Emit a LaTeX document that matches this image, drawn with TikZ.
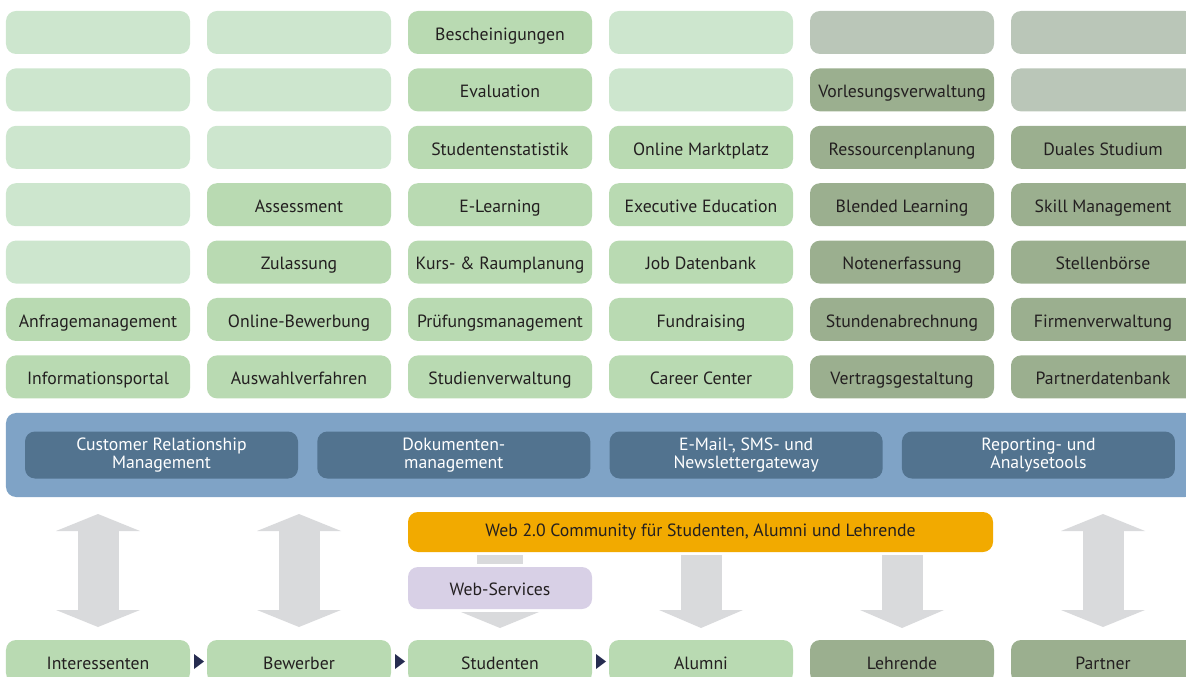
\documentclass[tikz,border=0pt]{standalone}
\usepackage{fontspec}
\setmainfont{PT Sans}
\usepackage{tikz}
\usetikzlibrary{arrows.meta, positioning, backgrounds, calc}

\definecolor{leergruen}{HTML}{CDE6CE}
\definecolor{modulgruen}{HTML}{B9DAB2}
\definecolor{leergrau}{HTML}{BAC6B8}
\definecolor{olivgruen}{HTML}{9BAF8F}
\definecolor{bandblau}{HTML}{7FA3C6}
\definecolor{dienstblau}{HTML}{52738F}
\definecolor{communityorange}{HTML}{F2AA00}
\definecolor{lavendel}{HTML}{D8D0E6}
\definecolor{pfeilgrau}{HTML}{D9DADC}
\definecolor{dunkelblau}{HTML}{262C50}
\definecolor{schrift}{HTML}{231F20}

\begin{document}
\begin{tikzpicture}[
    node distance=0.36cm and 0.425cm,
    font=\fontsize{12.6}{14}\selectfont,
    % Knoten
    modul/.style={rectangle, rounded corners=0.25cm, fill=modulgruen, text=schrift, minimum width=4.6cm, minimum height=1.075cm, inner sep=1pt, outer sep=0pt, text height=12pt, text depth=1pt, align=center},
    leer/.style={modul, fill=leergruen},
    partnermodul/.style={modul, fill=olivgruen},
    leerpartner/.style={modul, fill=leergrau},
    band/.style={rectangle, rounded corners=0.25cm, fill=bandblau, minimum width=29.725cm, minimum height=2.1cm, outer sep=0pt},
    dienst/.style={rectangle, rounded corners=0.25cm, fill=dienstblau, text=white, minimum width=6.825cm, minimum height=1.175cm, inner sep=1pt, outer sep=0pt, align=center, font=\fontsize{12.6}{12.8}\selectfont},
    community/.style={modul, fill=communityorange, minimum width=14.625cm, minimum height=1cm, text height=8pt, text depth=2pt},
    webdienst/.style={modul, fill=lavendel, minimum height=1.05cm},
    % Pfeile
    doppelpfeil/.style={draw=pfeilgrau, line width=1.025cm, {Triangle[width=2.1cm, length=0.425cm, line width=0pt]}-{Triangle[width=2.1cm, length=0.425cm, line width=0pt]}},
    pfeil/.style={draw=pfeilgrau, line width=1.025cm, -{Triangle[width=2.1cm, length=0.45cm, line width=0pt]}},
    steg/.style={draw=pfeilgrau, line width=1.15cm},
    webpfeil/.style={draw=pfeilgrau, line width=0.2pt, -{Triangle[width=1.95cm, length=0.4cm, line width=0pt]}},
    weiter/.style={draw=dunkelblau, line width=0.2pt, -{Triangle[width=0.375cm, length=0.25cm, line width=0pt]}}
]
\useasboundingbox (0,0) rectangle (29.65,-16.925);

% 1. Modulraster (7 Zeilen, 6 Spalten)
\node[leer, anchor=north west] (leer11) at (0.15,-0.275) {};
\node[leer, below=of leer11] (leer12) {};
\node[leer, below=of leer12] (leer13) {};
\node[leer, below=of leer13] (leer14) {};
\node[leer, below=of leer14] (leer15) {};
\node[modul, below=of leer15] (anfrage) {Anfragemanagement};
\node[modul, below=of anfrage] (info) {Informationsportal};

\node[leer, right=of leer11] (leer21) {};
\node[leer, below=of leer21] (leer22) {};
\node[leer, below=of leer22] (leer23) {};
\node[modul, below=of leer23] (assessment) {Assessment};
\node[modul, below=of assessment] (zulassung) {Zulassung};
\node[modul, below=of zulassung] (bewerbung) {Online-Bewerbung};
\node[modul, below=of bewerbung] (auswahl) {Auswahlverfahren};

\node[modul, right=of leer21] (bescheinigung) {Bescheinigungen};
\node[modul, below=of bescheinigung] (evaluation) {Evaluation};
\node[modul, below=of evaluation] (statistik) {Studentenstatistik};
\node[modul, below=of statistik] (elearning) {E-Learning};
\node[modul, below=of elearning] (kursplanung) {Kurs- \& Raumplanung};
\node[modul, below=of kursplanung] (pruefung) {Prüfungsmanagement};
\node[modul, below=of pruefung] (studien) {Studienverwaltung};

\node[leer, right=of bescheinigung] (leer41) {};
\node[leer, below=of leer41] (leer42) {};
\node[modul, below=of leer42] (marktplatz) {Online Marktplatz};
\node[modul, below=of marktplatz] (executive) {Executive Education};
\node[modul, below=of executive] (jobdb) {Job Datenbank};
\node[modul, below=of jobdb] (fundraising) {Fundraising};
\node[modul, below=of fundraising] (career) {Career Center};

\node[leerpartner, right=of leer41] (leer51) {};
\node[partnermodul, below=of leer51] (vorlesung) {Vorlesungsverwaltung};
\node[partnermodul, below=of vorlesung] (ressourcen) {Ressourcenplanung};
\node[partnermodul, below=of ressourcen] (blended) {Blended Learning};
\node[partnermodul, below=of blended] (noten) {Notenerfassung};
\node[partnermodul, below=of noten] (stunden) {Stundenabrechnung};
\node[partnermodul, below=of stunden] (vertrag) {Vertragsgestaltung};

\node[leerpartner, right=of leer51] (leer61) {};
\node[leerpartner, below=of leer61] (leer62) {};
\node[partnermodul, below=of leer62] (dual) {Duales Studium};
\node[partnermodul, below=of dual] (skill) {Skill Management};
\node[partnermodul, below=of skill] (stellen) {Stellenbörse};
\node[partnermodul, below=of stellen] (firmen) {Firmenverwaltung};
\node[partnermodul, below=of firmen] (partnerdb) {Partnerdatenbank};

% 2. Basisdienste
\node[band, below=0.365cm of info.south west, anchor=north west] (band) {};
\node[dienst, anchor=west] (crm) at ([xshift=0.475cm]band.west) {Customer Relationship\\Management};
\node[dienst, right=0.483cm of crm] (dms) {Dokumenten-\\management};
\node[dienst, right=0.483cm of dms] (gateway) {E-Mail-, SMS- und\\Newslettergateway};
\node[dienst, right=0.483cm of gateway] (reporting) {Reporting- und\\Analysetools};

% 3. Community und Web-Services
\node[community, anchor=north west] (community) at ($(band.south -| studien.west)+(0,-0.375)$) {Web 2.0 Community für Studenten, Alumni und Lehrende};
\node[webdienst, below=0.375cm of community.south west, anchor=north west] (webservices) {Web-Services};

% 4. Zielgruppen
\node[modul, below=0.775cm of webservices] (studenten) {Studenten};
\node[modul, left=of studenten] (bewerber) {Bewerber};
\node[modul, left=of bewerber] (interessenten) {Interessenten};
\node[modul, right=of studenten] (alumni) {Alumni};
\node[partnermodul, right=of alumni] (lehrende) {Lehrende};
\node[partnermodul, right=of lehrende] (partner) {Partner};

% Pfeile
\draw[doppelpfeil] ($(band.south -| interessenten.north)+(0,-0.425)$) -- ($(interessenten.north)+(0,0.325)$);
\draw[doppelpfeil] ($(band.south -| bewerber.north)+(0,-0.425)$) -- ($(bewerber.north)+(0,0.325)$);
\draw[doppelpfeil] ($(band.south -| partner.north)+(0,-0.425)$) -- ($(partner.north)+(0,0.325)$);
\draw[pfeil] ($(community.south -| alumni.north)+(0,-0.075)$) -- ($(alumni.north)+(0,0.3)$);
\draw[pfeil] ($(community.south -| lehrende.north)+(0,-0.075)$) -- ($(lehrende.north)+(0,0.3)$);
\draw[steg] ($(community.south -| webservices.north)+(0,-0.075)$) -- ($(webservices.north)+(0,0.075)$);
\draw[webpfeil] ($(webservices.south)+(0,-0.075)$) -- ($(studenten.north)+(0,0.3)$);

\draw[weiter] ($(interessenten.east)+(0.125,0)$) -- ($(bewerber.west)+(-0.075,0)$);
\draw[weiter] ($(bewerber.east)+(0.125,0)$) -- ($(studenten.west)+(-0.075,0)$);
\draw[weiter] ($(studenten.east)+(0.125,0)$) -- ($(alumni.west)+(-0.075,0)$);

\end{tikzpicture}
\end{document}
